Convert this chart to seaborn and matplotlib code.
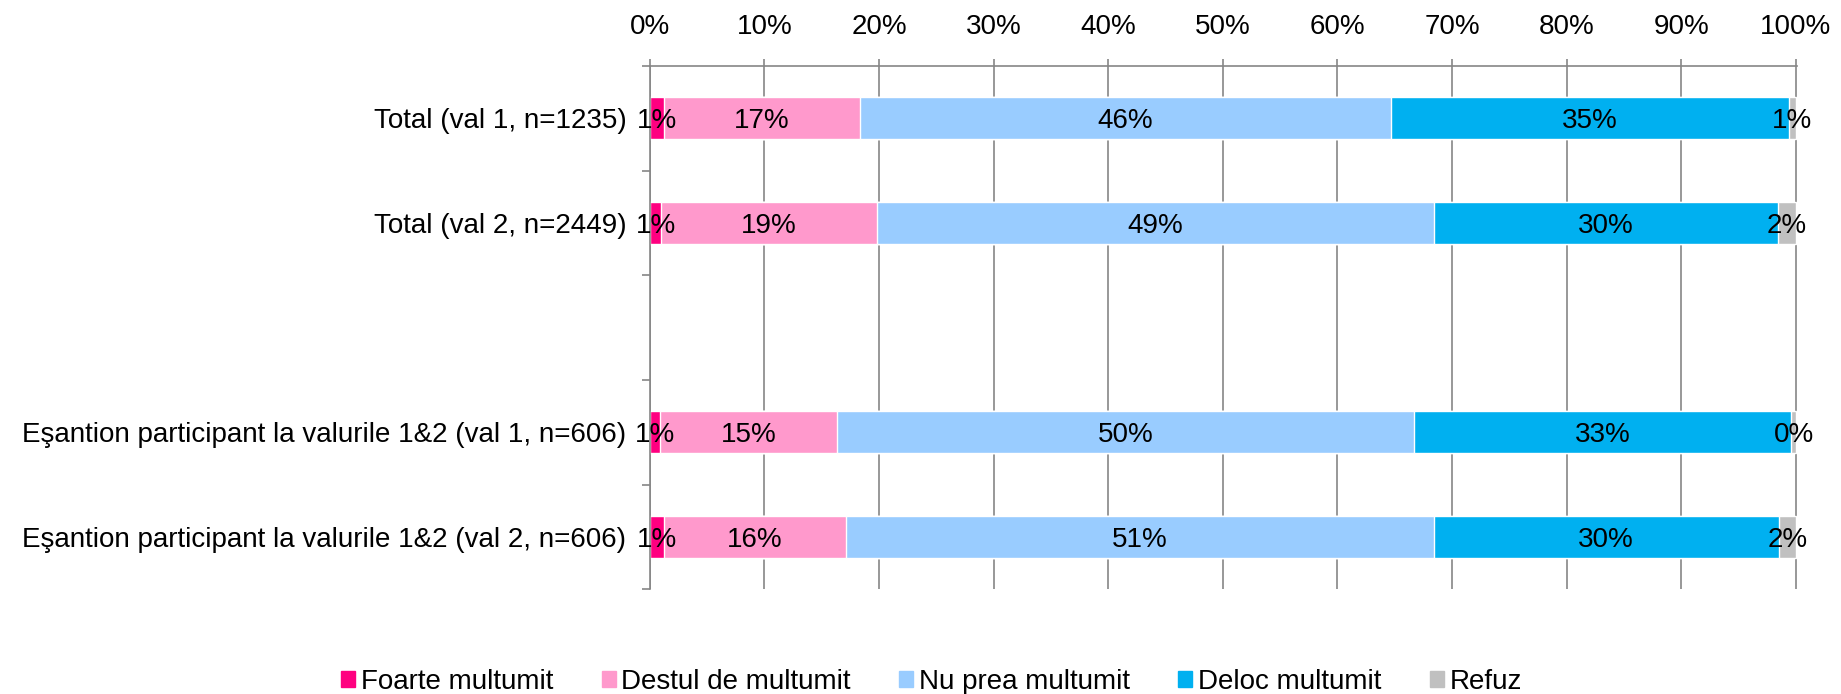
import matplotlib.patches as mpatches
import matplotlib.pyplot as plt
import matplotlib.ticker as mticker
import numpy as np
import pandas as pd
import seaborn as sns

# Chart data (percentages)
categories = [
    "Total (val 1, n=1235)",
    "Total (val 2, n=2449)",
    "Eşantion participant la valurile 1&2 (val 1, n=606)",
    "Eşantion participant la valurile 1&2 (val 2, n=606)",
]
row_order = [categories[0], categories[1], " ", categories[2], categories[3]]

series_names = [
    "Foarte multumit",
    "Destul de multumit",
    "Nu prea multumit",
    "Deloc multumit",
    "Refuz",
]
foarte = [1.2, 1.0, 0.9, 1.2]
destul = [17.1, 18.8, 15.4, 15.9]
nu_prea = [46.4, 48.6, 50.4, 51.3]
deloc = [34.7, 30.0, 32.9, 30.1]
refuz = [0.6, 1.6, 0.4, 1.5]
colors = ["#FF0080", "#FF99CC", "#99CCFF", "#00B0F0", "#C0C0C0"]

df = pd.DataFrame({"Categorie": categories})
for name, vals in zip(series_names, [foarte, destul, nu_prea, deloc, refuz]):
    df[name] = vals

# cumulative shares for stacking
cum = df[series_names].cumsum(axis=1) / 100
cum["Categorie"] = df["Categorie"]

sns.set_style("white")
plt.rcParams["font.family"] = ["Liberation Sans", "DejaVu Sans"]
plt.rcParams["text.color"] = "black"
plt.rcParams["xtick.labelcolor"] = "black"
plt.rcParams["ytick.labelcolor"] = "black"

fig, ax = plt.subplots(figsize=(18.41, 6.94), dpi=100)
fig.subplots_adjust(left=0.353, right=0.976, top=0.905, bottom=0.151)

# draw from the longest cumulative bar down so each segment shows
for name, color in reversed(list(zip(series_names, colors))):
    sns.barplot(
        data=cum,
        x=name,
        y="Categorie",
        order=row_order,
        color=color,
        saturation=1,
        width=0.4,
        orient="h",
        ax=ax,
    )

# value labels in the middle of each segment
for name in series_names:
    for cat, val, end in zip(df["Categorie"], df[name], cum[name]):
        ax.text(
            end - val / 200,
            row_order.index(cat),
            f"{val:.0f}%",
            ha="center",
            va="center_baseline",
            fontsize=20,
            color="black",
        )

grey = "#868686"
ax.set_xlim(0, 1.0008)
ax.set_ylim(4.5, -0.5)
ax.xaxis.set_major_locator(mticker.FixedLocator(np.arange(0, 1.01, 0.1)))
ax.xaxis.set_major_formatter(mticker.PercentFormatter(1.0, decimals=0))
ax.xaxis.tick_top()
ax.set_xlabel("")
ax.set_ylabel("")
ax.grid(axis="x", color=grey, lw=1.2)
ax.grid(axis="y", visible=False)
ax.set_axisbelow(True)

for side in ["right", "bottom"]:
    ax.spines[side].set_visible(False)
for side in ["top", "left"]:
    ax.spines[side].set_color(grey)
    ax.spines[side].set_linewidth(1.2)

ax.tick_params(axis="x", which="major", top=True, bottom=False, length=5,
               width=1.2, color=grey, pad=14, labelsize=20)
ax.tick_params(axis="y", which="major", length=0, pad=17, labelsize=20)
ax.set_yticks(np.arange(-0.5, 5, 1), minor=True)
ax.tick_params(axis="y", which="minor", left=True, length=6, width=1.2, color=grey)

handles = [mpatches.Patch(color=c, label=n) for n, c in zip(series_names, colors)]
fig.legend(
    handles=handles,
    loc="center",
    bbox_to_anchor=(0.506, 0.017),
    ncol=5,
    frameon=False,
    fontsize=20,
    handlelength=0.5,
    handleheight=0.5,
    handletextpad=0.2,
    columnspacing=1.75,
)

plt.savefig("out.png", dpi=100)
